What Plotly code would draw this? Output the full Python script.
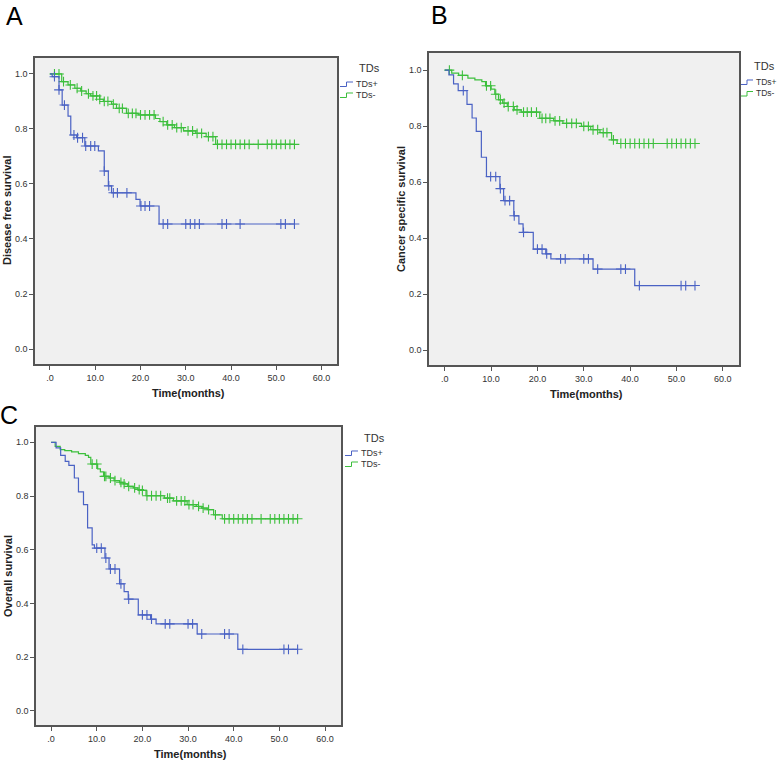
import plotly.graph_objects as go
from bisect import bisect_right

# ---------------- data ----------------
# Panel A: Disease free survival
a_pos_t = [0, 0.5, 2.0, 2.7, 4.0, 4.6, 5.9, 7.7, 10.7, 12.0, 12.9, 13.6, 19.0, 19.9, 24.1]
a_pos_s = [1.0, 0.99, 0.942, 0.887, 0.847, 0.778, 0.768, 0.738, 0.72, 0.647, 0.593, 0.568, 0.544, 0.52, 0.4545]
a_pos_cens = [1, 2, 3.2, 5.3, 6.1, 7.2, 7.9, 9.0, 9.9, 12, 13, 14, 14.9, 17, 20.1, 21, 22,
              25, 26, 30, 31, 32, 33, 38, 39, 42, 51, 52, 54]
a_neg_t = [0, 2.6, 4.0, 5.5, 6.8, 8.0, 9.0, 11.0, 11.8, 13.6, 14.7, 16.9, 19.5, 23.3, 24.3,
           25.8, 27.5, 29.5, 32.2, 34.5, 36.6]
a_neg_s = [1.0, 0.972, 0.96, 0.948, 0.938, 0.928, 0.92, 0.908, 0.90, 0.89, 0.875, 0.857, 0.851,
           0.838, 0.827, 0.815, 0.805, 0.793, 0.784, 0.772, 0.744]
a_neg_cens = [1, 2, 3, 4.5, 6, 7, 8.5, 9.5, 10.3, 11, 12, 12.8, 14, 15.3, 16, 17.3, 18.2, 19, 20,
              21, 22, 23, 25, 26, 27, 28, 29, 30.5, 31.5, 32.5, 33.5, 35, 36, 37, 38, 39, 40, 41,
              42, 43, 44, 46, 48, 49, 50, 51, 52, 53, 54]

# Panel B: Cancer specific survival
b_pos_t = [0, 0.9, 1.9, 2.9, 4.8, 5.9, 6.8, 7.9, 9.0, 11.9, 12.7, 14.9, 16.0, 16.9, 19.1, 21.8,
           22.9, 32.0, 41.0]
b_pos_s = [1.0, 0.983, 0.951, 0.927, 0.878, 0.829, 0.781, 0.689, 0.62, 0.577, 0.534, 0.48, 0.451,
           0.421, 0.361, 0.344, 0.326, 0.29, 0.231]
b_pos_cens = [4, 9.9, 11, 12, 13, 14, 15, 17, 20, 21, 22, 25, 26, 30, 31, 33, 38, 39, 42, 51, 52, 54]
b_neg_t = [0, 1.5, 3.0, 5.0, 6.5, 8.0, 8.8, 10.0, 10.8, 11.6, 12.5, 13.5, 15.0, 16.5, 20.5, 23.5,
           25.5, 29.5, 31.5, 33.5, 36.0, 37.2]
b_neg_s = [1.0, 0.989, 0.981, 0.971, 0.965, 0.959, 0.944, 0.932, 0.914, 0.894, 0.882, 0.870, 0.858,
           0.85, 0.828, 0.819, 0.81, 0.799, 0.787, 0.777, 0.751, 0.738]
b_neg_cens = [1, 3.8, 9, 9.9, 11, 12, 12.8, 13.7, 14.8, 15.6, 17, 17.8, 18.7, 19.8, 21, 21.8, 22.7,
              23.8, 24.8, 26.3, 27.4, 28.4, 30, 31, 32, 33, 34.2, 35, 36.4, 38, 39, 40, 41, 42, 43,
              44, 45, 48, 49, 50, 51, 52, 53, 54]

# Panel C: Overall survival
c_pos_t = [0, 1.1, 2.1, 3.1, 3.9, 5.1, 6.0, 7.1, 8.0, 9.0, 9.5, 11.8, 12.7, 15.0, 16.0, 16.9,
           19.1, 21.8, 23.0, 32.0, 40.9]
c_pos_s = [1.0, 0.979, 0.951, 0.929, 0.914, 0.867, 0.815, 0.768, 0.681, 0.618, 0.606, 0.569, 0.528,
           0.473, 0.444, 0.416, 0.357, 0.341, 0.3235, 0.286, 0.229]
c_pos_cens = [10, 11, 12, 13, 14, 15.3, 17, 20, 21, 22, 25, 26, 30, 31, 33, 38, 39, 42, 51, 52, 54]
c_neg_t = [0, 0.9, 2.0, 3.0, 4.5, 6.0, 7.5, 8.2, 8.7, 10.2, 10.8, 11.5, 12.7, 13.8, 15.0, 15.8,
           16.8, 18.0, 19.0, 19.8, 20.8, 24.8, 26.8, 29.8, 31.8, 33.0, 34.2, 35.6, 37.5]
c_neg_s = [1.0, 0.985, 0.973, 0.969, 0.964, 0.958, 0.951, 0.944, 0.919, 0.901, 0.89, 0.873, 0.867,
           0.857, 0.851, 0.845, 0.836, 0.83, 0.824, 0.821, 0.801, 0.792, 0.782, 0.768, 0.761,
           0.755, 0.749, 0.73, 0.715]
c_neg_cens = [9, 10, 11.7, 12, 13, 14, 15.3, 16, 17, 18.3, 19.3, 20, 21, 22, 23, 24, 25.5, 26, 27.5,
              28.5, 29.3, 30.2, 31.1, 32.3, 33.3, 34.5, 36, 38, 39, 40, 41, 42, 43, 44, 46, 48, 49,
              50, 51, 52, 53, 54]

x_tickvals = [0, 10, 20, 30, 40, 50, 60]
x_ticktext = [".0", "10.0", "20.0", "30.0", "40.0", "50.0", "60.0"]
y_tickvals = [0, 0.2, 0.4, 0.6, 0.8, 1.0]
y_ticktext = ["0.0", "0.2", "0.4", "0.6", "0.8", "1.0"]

panel_letters = ["A", "B", "C"]
y_titles = ["Disease free survival", "Cancer specific survival", "Overall survival"]
x_title = "Time(months)"
legend_title = "TDs"
group_names = ["TDs+", "TDs-"]

# ---------------- style ----------------
W, H = 777, 760
BLUE = "#4a62c4"
GREEN = "#3cbf3c"
FONT = "Liberation Sans, Arial, sans-serif"

# pixel boxes (l, t, r, b) and axis ranges per panel
boxes = [(35, 58, 337, 364), (429, 53, 739, 365), (36, 427, 341, 725)]
xranges = [[-3.3, 63.4], [-3.4, 63.5], [-3.3, 63.5]]
yranges = [[-0.0545, 1.058], [-0.0525, 1.061], [-0.053, 1.057]]
# legend offsets relative to box (title dx, title dy, glyph x0, glyph x1, text dx, item dy, item gap, text size)
legend_geo = [(20, 10, 3, 16, 17, 26, 11, 9), (13, 13, 2, 14, 15, 29, 11.5, 8.5),
              (21, 11, 4, 17, 18, 26, 11, 9)]


def px(x):
    return x / W


def py(y):
    return 1 - y / H


def level_at(ts, ss, t):
    i = bisect_right(ts, t) - 1
    return ss[max(i, 0)]


panels = [
    ((a_pos_t, a_pos_s, a_pos_cens), (a_neg_t, a_neg_s, a_neg_cens)),
    ((b_pos_t, b_pos_s, b_pos_cens), (b_neg_t, b_neg_s, b_neg_cens)),
    ((c_pos_t, c_pos_s, c_pos_cens), (c_neg_t, c_neg_s, c_neg_cens)),
]

fig = go.Figure()
layout = dict(
    width=W, height=H, margin=dict(l=0, r=0, t=0, b=0),
    paper_bgcolor="white", plot_bgcolor="#f0f0f0",
    showlegend=False, font=dict(family=FONT, color="#333"),
)
annotations = []
shapes = []


def ann(x, y, text, size, color="#333", xanchor="center", angle=0):
    annotations.append(dict(x=px(x), y=py(y), xref="paper", yref="paper", text=text,
                            showarrow=False, xanchor=xanchor, yanchor="middle",
                            textangle=angle, font=dict(size=size, color=color, family=FONT)))


for k, (groups, box) in enumerate(zip(panels, boxes)):
    sfx = "" if k == 0 else str(k + 1)
    xa, ya = "x" + sfx, "y" + sfx
    l, t, r, b = box
    for (ts, ss, cens), color, name in [(groups[1], GREEN, group_names[1]),
                                         (groups[0], BLUE, group_names[0])]:
        t_end = max(cens[-1], ts[-1])
        fig.add_trace(go.Scatter(
            x=list(ts) + [t_end], y=list(ss) + [ss[-1]], mode="lines",
            line=dict(color=color, width=1.2, shape="hv"), xaxis=xa, yaxis=ya,
            name=name, hoverinfo="skip"))
        fig.add_trace(go.Scatter(
            x=cens, y=[level_at(ts, ss, c) for c in cens], mode="markers",
            marker=dict(symbol="cross-thin", size=7, line=dict(color=color, width=1.1)),
            xaxis=xa, yaxis=ya, name=name, hoverinfo="skip"))

    axis_common = dict(showgrid=False, zeroline=False, showline=True, mirror=True,
                       linecolor="#555555", linewidth=1.5, ticks="outside", ticklen=4,
                       tickwidth=1, tickcolor="#555555",
                       tickfont=dict(family=FONT, size=9, color="#333"))
    layout["xaxis" + sfx] = dict(axis_common, domain=[px(l), px(r)], range=xranges[k],
                                 tickvals=x_tickvals, ticktext=x_ticktext, anchor=ya)
    layout["yaxis" + sfx] = dict(axis_common, domain=[py(b), py(t)], range=yranges[k],
                                 tickvals=y_tickvals, ticktext=y_ticktext, anchor=xa)

    # axis titles
    ann((l + r) / 2 + 2, b + 29, "<b>%s</b>" % x_title, 11, "#222")
    ann(l - 28, (t + b) / 2, "<b>%s</b>" % y_titles[k], 11, "#222", angle=-90)
    # legend title and entries
    tdx, tdy, g0, g1, txd, idy, gap, tsz = legend_geo[k]
    ann(r + tdx, t + tdy, legend_title, 11, "#333", xanchor="left")
    for j, (name, color) in enumerate([(group_names[0], BLUE), (group_names[1], GREEN)]):
        yy = t + idy + gap * j
        ann(r + txd, yy, name, tsz, "#333", xanchor="left")
        xm = r + (g0 + g1) / 2
        x0, x1, x2 = px(r + g0), px(xm), px(r + g1)
        y0, y1 = py(yy + 2.5), py(yy - 2)
        shapes.append(dict(type="path", xref="paper", yref="paper",
                           path="M %f %f L %f %f L %f %f L %f %f" % (x0, y0, x1, y0, x1, y1, x2, y1),
                           line=dict(color=color, width=1)))

# panel letters
letter_pos = [(14.5, 16), (439, 15.5), (9, 415)]
for letter, (lx, ly) in zip(panel_letters, letter_pos):
    ann(lx, ly, letter, 25, "#000")

layout["annotations"] = annotations
layout["shapes"] = shapes
fig.update_layout(**layout)
fig.write_html("out.html", config={"displayModeBar": False},
               post_script="document.body.style.margin='0';")
